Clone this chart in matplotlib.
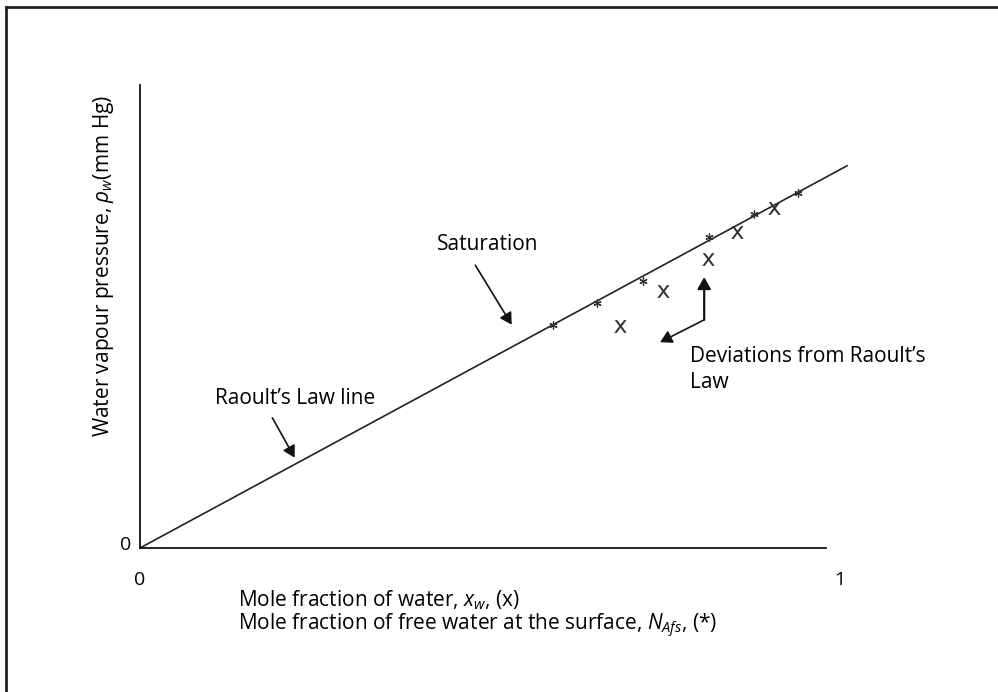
import numpy as np
import matplotlib.pyplot as plt
from matplotlib.patches import FancyArrowPatch

plt.rcParams['font.family'] = ['Open Sans', 'DejaVu Sans']
plt.rcParams['mathtext.fontset'] = 'custom'
plt.rcParams['mathtext.rm'] = 'Open Sans'
plt.rcParams['mathtext.it'] = 'Open Sans:italic'

# Raoult's law line (end points)
lineX = [0.0, 1.01]
lineY = [0.0, 0.546]

# free water at the surface (*)
starX = [0.590, 0.653, 0.719, 0.813, 0.877, 0.940]
starY = [0.319, 0.350, 0.381, 0.444, 0.477, 0.507]

# mole fraction of water (x)
crossX = [0.686, 0.747, 0.811, 0.853, 0.906]
crossY = [0.317, 0.367, 0.413, 0.451, 0.486]

W, H = 998, 692
fig = plt.figure(figsize=(W / 100, H / 100), dpi=100)

# outer frame (only top and left visible)
fig.add_artist(plt.Line2D([6 / W, 6 / W], [0, 1 - 7 / H], color='#222222', lw=2.0))
fig.add_artist(plt.Line2D([6 / W, 1], [1 - 7 / H, 1 - 7 / H], color='#222222', lw=2.0))

x0, y0 = 140, 548
ax = fig.add_axes([x0 / W, (H - y0) / H, (826 - x0) / W, (y0 - 85) / H])
ax.set_xlim(0, (826 - x0) / 700)
ax.set_ylim(0, (y0 - 85) / 700)
for s in ['top', 'right']:
    ax.spines[s].set_visible(False)
for s in ['left', 'bottom']:
    ax.spines[s].set_linewidth(1.3)
    ax.spines[s].set_color('#111111')
ax.set_xticks([])
ax.set_yticks([])

ax.plot(lineX, lineY, color='#222222', lw=1.2, clip_on=False)
ax.scatter(starX, starY, marker=(6, 2, 0), s=28, color='#333333', lw=0.9, zorder=3)
ax.scatter(crossX, crossY, marker='$\\mathsf{x}$', s=85, color='#333333', lw=0, zorder=3)

fs = 15
ax.text(-0.012, 0.004, '0', ha='right', va='center', fontsize=14)
ax.text(0.0, -0.046, '0', ha='center', va='center', fontsize=14)
ax.text(1.0, -0.046, '1', ha='center', va='center', fontsize=14)

ax.text(-0.052, 0.403, r'Water vapour pressure, $\rho_w$(mm Hg)', rotation=90,
        ha='center', va='center', fontsize=fs)
ax.text(0.140, -0.074, r'Mole fraction of water, $x_w$, (x)', ha='left', va='center', fontsize=fs)
ax.text(0.140, -0.1115, r'Mole fraction of free water at the surface, $N_{Afs}$, (*)',
        ha='left', va='center', fontsize=fs)

ax.text(0.424, 0.433, 'Saturation', ha='left', va='center', fontsize=fs)
ax.text(0.107, 0.214, 'Raoult\u2019s Law line', ha='left', va='center', fontsize=fs)
ax.text(0.786, 0.273, 'Deviations from Raoult\u2019s', ha='left', va='center', fontsize=fs)
ax.text(0.786, 0.236, 'Law', ha='left', va='center', fontsize=fs)


def arrow(p, q, lw=1.2):
    a = FancyArrowPatch(p, q, arrowstyle='-|>,head_length=7,head_width=4',
                        color='#111111', lw=lw, shrinkA=0, shrinkB=0, clip_on=False)
    ax.add_patch(a)


arrow((0.479, 0.404), (0.531, 0.319))
arrow((0.189, 0.186), (0.221, 0.129))
arrow((0.806, 0.326), (0.806, 0.387), lw=1.6)
arrow((0.806, 0.326), (0.743, 0.294))

plt.savefig('out.png', dpi=100)
